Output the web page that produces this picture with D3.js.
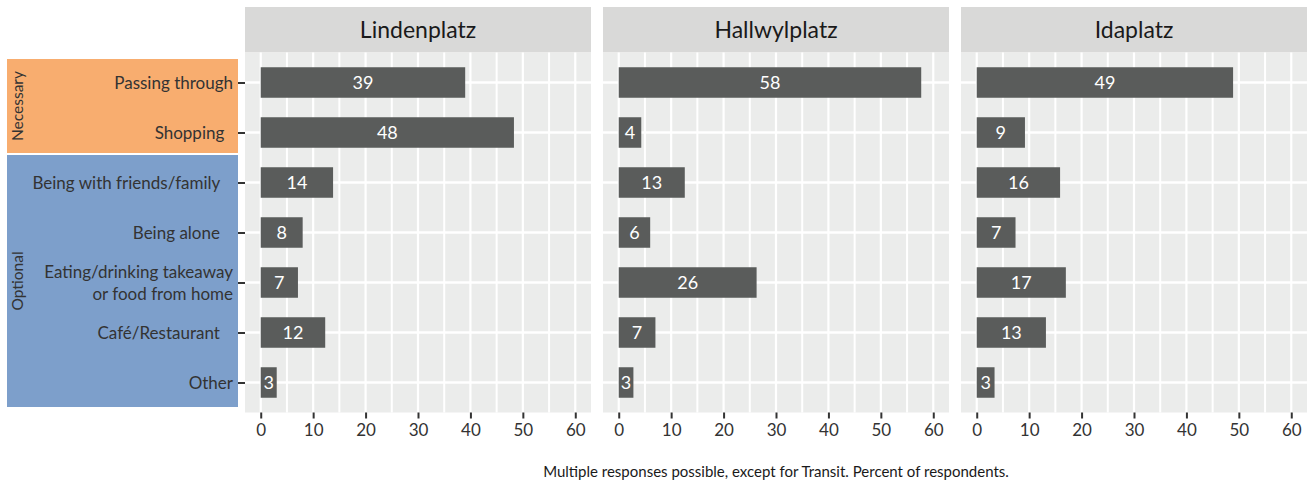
<!DOCTYPE html>
<html>
<head>
<meta charset="utf-8">
<script src="https://cdn.jsdelivr.net/npm/d3@7"></script>
<style>
  body { margin: 0; background: #fff; }
  svg text { font-family: Lato, "Noto Sans", sans-serif; white-space: pre; }
</style>
</head>
<body>
<div id="chart"></div>
<script>
// data
const places = ['Lindenplatz', 'Hallwylplatz', 'Idaplatz'];
const categories = [
  'Passing through',
  'Shopping  ',
  'Being with friends/family   ',
  'Being alone   ',
  'Eating/drinking takeaway\nor food from home',
  'Café/Restaurant   ',
  'Other'
];
const groups = ['Necessary', 'Optional'];
const groupOfCategory = [0, 0, 1, 1, 1, 1, 1];
const lindenplatz = [39.0, 48.3, 13.8, 8.0, 7.1, 12.3, 3.05];
const hallwylplatz = [57.7, 4.3, 12.6, 6.0, 26.3, 7.0, 2.8];
const idaplatz = [48.9, 9.2, 15.9, 7.4, 17.0, 13.2, 3.4];
const xTicks = [0, 10, 20, 30, 40, 50, 60];
const xMinorTicks = [5, 15, 25, 35, 45, 55];
const caption = 'Multiple responses possible, except for Transit. Percent of respondents.';

const seriesByPlace = [lindenplatz, hallwylplatz, idaplatz];
const groupColors = ['#F8AD6F', '#7D9FCB'];

const width = 1312;
const height = 484;
const panel = { left: 245, width: 346, gap: 12, stripTop: 7, top: 52.5, bottom: 412.5 };

const svg = d3.select('#chart')
  .append('svg')
    .attr('width', width)
    .attr('height', height);

const xScale = d3.scaleLinear()
  .domain([-3, 63])
  .range([0, panel.width]);

const yScale = d3.scalePoint()
  .domain(categories)
  .range([panel.top, panel.bottom])
  .padding(0.6);

const barHeight = yScale.step() * 0.61;

// group boxes on the left
groups.forEach((name, gi) => {
  const members = categories.filter((c, i) => groupOfCategory[i] === gi);
  const y0 = yScale(members[0]) - (gi === 0 ? 23.5 : 27.5);
  const y1 = yScale(members[members.length - 1]) + (gi === 0 ? 20.5 : 24.5);
  svg.append('rect')
    .attr('x', 7)
    .attr('y', y0)
    .attr('width', 231)
    .attr('height', y1 - y0)
    .attr('fill', groupColors[gi]);
  svg.append('text')
    .attr('transform', `translate(23, ${(y0 + y1) / 2}) rotate(-90)`)
    .attr('text-anchor', 'middle')
    .attr('font-size', 15.5)
    .attr('fill', '#333')
    .text(name);
});

// y axis (only left of the first panel)
const yAxis = svg.append('g')
  .attr('transform', `translate(${panel.left}, 0)`)
  .call(d3.axisLeft(yScale).tickSize(7).tickPadding(5));
yAxis.select('.domain').remove();
yAxis.selectAll('.tick line').attr('stroke', '#333').attr('stroke-width', 2);
yAxis.selectAll('.tick text')
  .attr('font-size', 17)
  .attr('fill', '#333')
  .each(function (d) {
    const lines = d.split('\n');
    const t = d3.select(this).text(null).attr('dy', null);
    lines.forEach((line, i) => {
      t.append('tspan')
        .attr('x', -12)
        .attr('dy', i === 0 ? `${0.33 - (lines.length - 1) * 0.65}em` : '1.3em')
        .text(line);
    });
  });

places.forEach((place, pi) => {
  const x0 = panel.left + pi * (panel.width + panel.gap);
  const g = svg.append('g').attr('transform', `translate(${x0}, 0)`);
  const values = seriesByPlace[pi];

  // strip
  g.append('rect')
    .attr('y', panel.stripTop)
    .attr('width', panel.width)
    .attr('height', panel.top - panel.stripTop)
    .attr('fill', '#D9D9D8');
  g.append('text')
    .attr('x', panel.width / 2)
    .attr('y', (panel.stripTop + panel.top) / 2)
    .attr('dy', '0.36em')
    .attr('text-anchor', 'middle')
    .attr('font-size', 23)
    .attr('fill', '#1A1A1A')
    .text(place);

  // background + grid
  g.append('rect')
    .attr('y', panel.top)
    .attr('width', panel.width)
    .attr('height', panel.bottom - panel.top)
    .attr('fill', '#EBECEB');
  g.selectAll('.grid-minor')
    .data(xMinorTicks)
    .join('line')
      .attr('x1', (d) => xScale(d))
      .attr('x2', (d) => xScale(d))
      .attr('y1', panel.top)
      .attr('y2', panel.bottom)
      .attr('stroke', '#fff')
      .attr('stroke-width', 2);
  g.selectAll('.grid-major')
    .data(xTicks)
    .join('line')
      .attr('x1', (d) => xScale(d))
      .attr('x2', (d) => xScale(d))
      .attr('y1', panel.top)
      .attr('y2', panel.bottom)
      .attr('stroke', '#fff')
      .attr('stroke-width', 2.2);
  g.selectAll('.grid-y')
    .data(categories)
    .join('line')
      .attr('x1', 0)
      .attr('x2', panel.width)
      .attr('y1', (d) => yScale(d))
      .attr('y2', (d) => yScale(d))
      .attr('stroke', '#fff')
      .attr('stroke-width', 2.5);

  // bars
  g.selectAll('.bar')
    .data(values)
    .join('rect')
      .attr('x', xScale(0))
      .attr('y', (d, i) => yScale(categories[i]) - barHeight / 2)
      .attr('width', (d) => xScale(d) - xScale(0))
      .attr('height', barHeight)
      .attr('fill', '#5A5C5B');
  g.selectAll('.bar-label')
    .data(values)
    .join('text')
      .attr('x', (d) => xScale(d / 2))
      .attr('y', (d, i) => yScale(categories[i]))
      .attr('dy', '0.36em')
      .attr('text-anchor', 'middle')
      .attr('font-size', 18)
      .attr('fill', '#fff')
      .text((d) => Math.round(d));

  // x axis
  const xAxis = g.append('g')
    .attr('transform', `translate(0, ${panel.bottom})`)
    .call(d3.axisBottom(xScale).tickValues(xTicks).tickSize(6).tickPadding(5));
  xAxis.select('.domain').remove();
  xAxis.selectAll('.tick line').attr('stroke', '#333').attr('stroke-width', 2);
  xAxis.selectAll('.tick text').attr('font-size', 17).attr('fill', '#333');
});

svg.append('text')
  .attr('x', panel.left + (3 * panel.width + 2 * panel.gap) / 2)
  .attr('y', 472)
  .attr('dy', '0.35em')
  .attr('text-anchor', 'middle')
  .attr('font-size', 15)
  .attr('fill', '#1A1A1A')
  .text(caption);
</script>
</body>
</html>
